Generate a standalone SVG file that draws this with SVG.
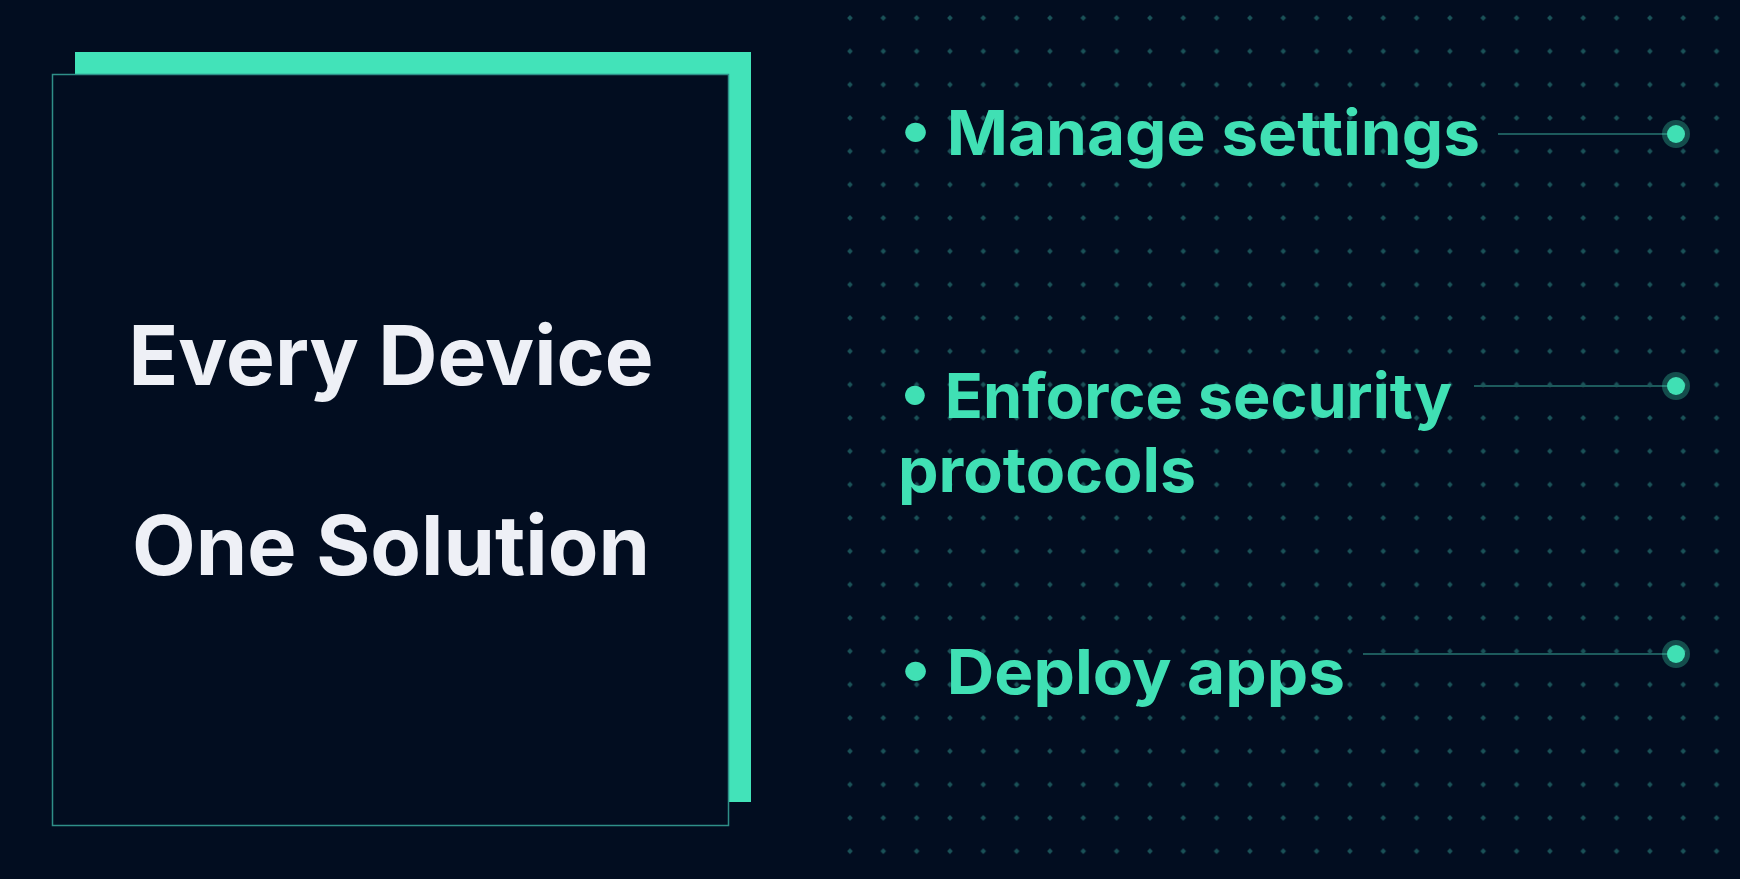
<svg xmlns="http://www.w3.org/2000/svg" width="1740" height="879" viewBox="0 0 1740 879">
<defs>
<style>
.g{font-family:Inter,"Liberation Sans",sans-serif;font-weight:700;fill:#40e0b4;font-size:62px}
.w{font-family:Inter,"Liberation Sans",sans-serif;font-weight:700;fill:#eef0f6;font-size:82px;text-anchor:middle}
.ln{stroke:#1d5a5c;stroke-width:2}
.halo{fill:#40e0b4;fill-opacity:0.3}
.dot{fill:#40e0b4}
</style>
<pattern id="dots" x="833.3" y="1.3" width="33.33" height="33.33" patternUnits="userSpaceOnUse">
<rect x="14.67" y="14.67" width="4" height="4" transform="rotate(45 16.67 16.67)" fill="#1a5258"/>
</pattern>
</defs>
<rect width="1740" height="879" fill="#020d20"/>
<rect x="840" y="0" width="900" height="879" fill="url(#dots)"/>
<g id="card">
<rect x="75" y="52" width="676" height="750" fill="#42e3b9"/>
<rect x="52.5" y="74.5" width="676" height="751" fill="#020d20" stroke="#2f8f88" stroke-width="1.5"/>
<text class="w" x="391" y="385" textLength="525" lengthAdjust="spacingAndGlyphs">Every Device</text>
<text class="w" x="391" y="575" textLength="518" lengthAdjust="spacingAndGlyphs">One Solution</text>
</g>
<g id="connectors">
<line class="ln" x1="1498" y1="134" x2="1668" y2="134"/>
<line class="ln" x1="1474" y1="386" x2="1668" y2="386"/>
<line class="ln" x1="1363" y1="654" x2="1668" y2="654"/>
</g>
<g id="item1">
<text class="g" x="900" y="155" textLength="580" lengthAdjust="spacingAndGlyphs">• Manage settings</text>
<circle class="halo" cx="1676" cy="134" r="14"/><circle class="dot" cx="1676" cy="134" r="9"/>
</g>
<g id="item2">
<text class="g" x="900" y="418" textLength="552" lengthAdjust="spacingAndGlyphs">• Enforce security</text>
<text class="g" x="898" y="492" textLength="298" lengthAdjust="spacingAndGlyphs">protocols</text>
<circle class="halo" cx="1676" cy="386" r="14"/><circle class="dot" cx="1676" cy="386" r="9"/>
</g>
<g id="item3">
<text class="g" x="900" y="694" textLength="445" lengthAdjust="spacingAndGlyphs">• Deploy apps</text>
<circle class="halo" cx="1676" cy="654" r="14"/><circle class="dot" cx="1676" cy="654" r="9"/>
</g>
</svg>
